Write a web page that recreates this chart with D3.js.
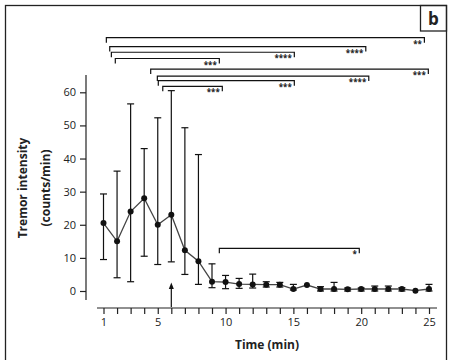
<!DOCTYPE html>
<html>
<head>
<meta charset="utf-8">
<script src="https://cdn.jsdelivr.net/npm/d3@7"></script>
<style>
    body { margin: 0; background: #fff; }
    text { font-family: "Open Sans", "DejaVu Sans", sans-serif; fill: #222; }
</style>
</head>
<body>
<svg id="canvas" width="454" height="360"></svg>
<script>
(function () {

    // Data: time (min), mean tremor intensity and error bar ends.
    const times = [1, 2, 3, 4, 5, 6, 7, 8, 9, 10, 11, 12, 13, 14, 15, 16, 17, 18, 19, 20, 21, 22, 23, 24, 25];
    const means = [20.5, 15, 24, 28, 20, 23, 12.3, 9, 2.8, 2.7, 2.1, 2.0, 1.9, 1.9, 0.6, 1.8, 0.6, 0.6, 0.5, 0.6, 0.6, 0.6, 0.6, 0.1, 0.6];
    const lows  = [9.5, 4, 2.8, 10.5, 8, 8.8, 5, 2, 1, 0.7, 0.8, 0.9, 1.2, 1.2, 0.3, 1.8, 0, 0, 0, 0, 0, 0, 0, 0.1, 0];
    const highs = [29.3, 36.2, 56.5, 43, 52.3, 60.5, 49.3, 41.2, 8.2, 4.7, 3.8, 5.1, 2.8, 2.6, 2.0, 1.8, 1.3, 2.6, 0.9, 0.9, 1.5, 1.5, 1.0, 0.1, 2.0];

    const xTicks = [1, 5, 10, 15, 20, 25];
    const yTicks = [0, 10, 20, 30, 40, 50, 60];

    // Significance brackets: start, end (min), level (in y units), label.
    const bracketStart = [1.21, 1.46, 1.58, 1.87, 4.48, 4.97, 5.04, 5.37, 9.54];
    const bracketEnd   = [24.66, 20.34, 15.07, 9.54, 24.95, 20.56, 15.07, 9.76, 19.86];
    const bracketLevel = [76.5, 73.8, 72.1, 70.2, 67.0, 64.9, 63.5, 61.8, 12.9];
    const bracketLabel = ["**", "****", "****", "***", "***", "****", "***", "***", "*"];

    const arrowTime = 6;

    let svg = d3.select("#canvas");

    // Frame and panel letter.
    svg.append("rect")
        .attr("x", 5.5).attr("y", 5.5)
        .attr("width", 441).attr("height", 380)
        .attr("fill", "none").attr("stroke", "#222").attr("stroke-width", 1.3);
    svg.append("rect")
        .attr("x", 420.5).attr("y", 5.5)
        .attr("width", 26).attr("height", 25.5)
        .attr("fill", "none").attr("stroke", "#222").attr("stroke-width", 1.3);
    svg.append("text")
        .attr("x", 433.5).attr("y", 25)
        .attr("text-anchor", "middle")
        .attr("font-size", 17).attr("font-weight", "bold")
        .text("b");

    // Scales.
    let xScale = d3.scaleLinear().domain([1, 25]).range([103.5, 429]);
    let yScale = d3.scaleLinear().domain([0, 60]).range([291, 92.3]);

    // X axis (offset below the plot).
    let xAxis = d3.axisBottom(xScale)
        .tickValues(times)
        .tickSize(6)
        .tickPadding(4)
        .tickFormat(d => xTicks.includes(d) ? d : "");
    let gx = svg.append("g")
        .attr("transform", "translate(0, 308)")
        .call(xAxis);
    gx.select(".domain").attr("d", "M97,0H437").attr("stroke", "#222").attr("stroke-width", 1.2);
    gx.selectAll(".tick line").attr("stroke", "#222").attr("stroke-width", 1.2);
    gx.selectAll(".tick text").attr("font-size", 11).attr("font-family", null).attr("fill", "#222");

    // Y axis.
    let yAxis = d3.axisLeft(yScale)
        .tickValues(yTicks)
        .tickSize(6)
        .tickPadding(4);
    let gy = svg.append("g")
        .attr("transform", "translate(86, 0)")
        .call(yAxis);
    gy.select(".domain").attr("d", "M0,75V300").attr("stroke", "#222").attr("stroke-width", 1.2);
    gy.selectAll(".tick line").attr("stroke", "#222").attr("stroke-width", 1.2);
    gy.selectAll(".tick text").attr("font-size", 11).attr("font-family", null).attr("fill", "#222");

    // Axis titles.
    svg.append("text")
        .attr("x", 267).attr("y", 349)
        .attr("text-anchor", "middle")
        .attr("font-size", 12).attr("font-weight", "bold")
        .text("Time (min)");
    let yTitle = svg.append("text")
        .attr("transform", "translate(27, 188) rotate(-90)")
        .attr("text-anchor", "middle")
        .attr("font-size", 12).attr("font-weight", "bold");
    yTitle.append("tspan").attr("x", 0).attr("dy", 0).text("Tremor intensity");
    yTitle.append("tspan").attr("x", 0).attr("dy", 23).text("(counts/min)");

    let data = times.map((t, i) => ({ t: t, m: means[i], lo: lows[i], hi: highs[i] }));

    // Mean line.
    let line = d3.line()
        .x(d => xScale(d.t))
        .y(d => yScale(d.m));
    svg.append("path")
        .datum(data)
        .attr("fill", "none")
        .attr("stroke", "#444")
        .attr("stroke-width", 1.3)
        .attr("d", line);

    // Error bars.
    let bars = svg.append("g")
        .attr("stroke", "#111")
        .attr("stroke-width", 1.2);
    data.filter(d => d.hi > d.lo).forEach(function (d) {
        let x = xScale(d.t);
        bars.append("line")
            .attr("x1", x).attr("x2", x)
            .attr("y1", yScale(d.lo)).attr("y2", yScale(d.hi));
        bars.append("line")
            .attr("x1", x - 3.5).attr("x2", x + 3.5)
            .attr("y1", yScale(d.hi)).attr("y2", yScale(d.hi));
        bars.append("line")
            .attr("x1", x - 3.5).attr("x2", x + 3.5)
            .attr("y1", yScale(d.lo)).attr("y2", yScale(d.lo));
    });

    // Points.
    svg.append("g").selectAll("circle")
        .data(data)
        .join("circle")
        .attr("cx", d => xScale(d.t))
        .attr("cy", d => yScale(d.m))
        .attr("r", 3)
        .attr("fill", "#111");

    // Arrow marking the time point.
    let ax = xScale(arrowTime);
    svg.append("line")
        .attr("x1", ax).attr("x2", ax)
        .attr("y1", 307).attr("y2", 288)
        .attr("stroke", "#111").attr("stroke-width", 1.2);
    svg.append("path")
        .attr("d", `M${ax - 2.5},289L${ax},282.5L${ax + 2.5},289Z`)
        .attr("fill", "#111");

    // Significance brackets.
    let brackets = svg.append("g");
    bracketStart.forEach(function (s, i) {
        let x1 = xScale(s);
        let x2 = xScale(bracketEnd[i]);
        let y = yScale(bracketLevel[i]);
        brackets.append("path")
            .attr("d", `M${x1},${y + 5}V${y}H${x2}V${y + 5}`)
            .attr("fill", "none")
            .attr("stroke", "#111")
            .attr("stroke-width", 1.2);
        brackets.append("text")
            .attr("x", x2 - 2.5).attr("y", y + 9)
            .attr("text-anchor", "end")
            .attr("font-size", 8)
            .attr("font-weight", "bold")
            .attr("fill", "#333")
            .text(bracketLabel[i]);
    });

})();
</script>
</body>
</html>
